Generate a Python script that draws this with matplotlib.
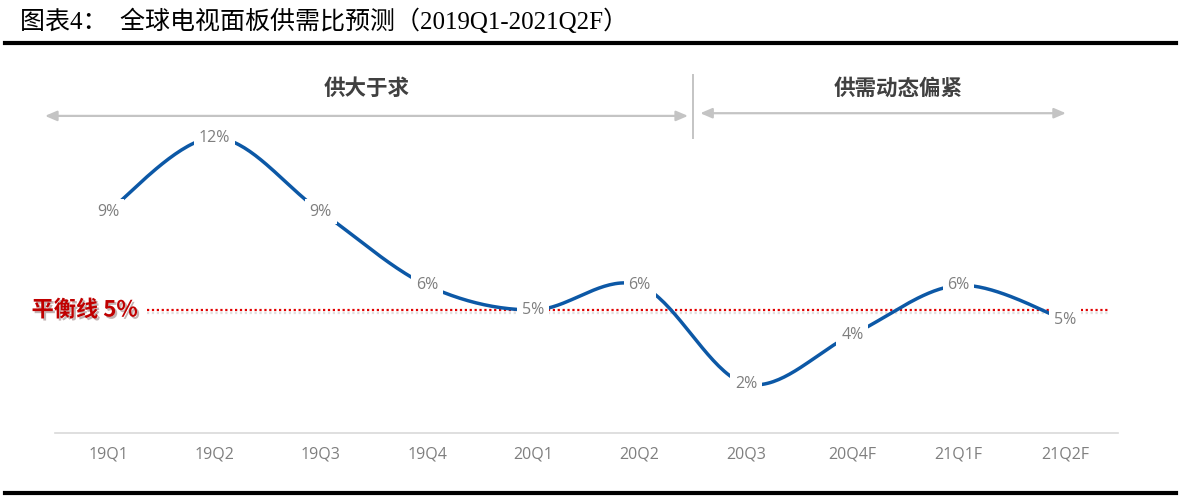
import numpy as np
import matplotlib
matplotlib.use("Agg")
import matplotlib.pyplot as plt
import matplotlib.patheffects as pe

plt.rcParams['font.family'] = ['Noto Sans CJK SC', 'DejaVu Sans']

quarters = ["19Q1", "19Q2", "19Q3", "19Q4", "20Q1", "20Q2",
            "20Q3", "20Q4F", "21Q1F", "21Q2F"]
ratio = [9, 12, 9, 6, 5, 6, 2, 4, 6, 4.6]
balance = 5
phases = ["供大于求", "供需动态偏紧"]
title = "图表4：  全球电视面板供需比预测（2019Q1-2021Q2F）"

BLUE = "#0c58a6"
GRAY_TXT = "#7f7f7f"
RED = "#c00000"
NUM_FONT = ["Open Sans", "DejaVu Sans"]


def smooth(x, y, n=40):
    """Excel-style smoothed line (Catmull-Rom through the points)."""
    x = np.asarray(x, float)
    y = np.asarray(y, float)
    xs, ys = [], []
    for i in range(len(x) - 1):
        p0 = i - 1 if i > 0 else i
        p3 = i + 2 if i + 2 < len(x) else i + 1
        c1x = x[i] + (x[i + 1] - x[p0]) / 6
        c1y = y[i] + (y[i + 1] - y[p0]) / 6
        c2x = x[i + 1] - (x[p3] - x[i]) / 6
        c2y = y[i + 1] - (y[p3] - y[i]) / 6
        t = np.linspace(0, 1, n)
        b0, b1, b2, b3 = (1 - t) ** 3, 3 * t * (1 - t) ** 2, 3 * t ** 2 * (1 - t), t ** 3
        xs.append(b0 * x[i] + b1 * c1x + b2 * c2x + b3 * x[i + 1])
        ys.append(b0 * y[i] + b1 * c1y + b2 * c2y + b3 * y[i + 1])
    return np.concatenate(xs), np.concatenate(ys)


fig = plt.figure(figsize=(11.81, 5.0), dpi=100)
ax = fig.add_axes([55 / 1181, 67 / 500, 1063 / 1181, 369 / 500])
ax.set_xlim(-0.5, len(quarters) - 0.5)
ax.set_ylim(0, 15)

xi = np.arange(len(quarters))
sx, sy = smooth(xi, ratio)
ax.plot(sx, sy, color=BLUE, lw=2.5, solid_capstyle="butt", zorder=3)
for x, v in zip(xi, ratio):
    ax.text(x, v, f"{v:.0f}%", ha="center", va="center", fontsize=11.5,
            family=NUM_FONT, color=GRAY_TXT, zorder=4,
            bbox=dict(boxstyle="square,pad=0.3", fc="white", ec="none"))

# balance line
shadow = [pe.SimpleLineShadow(offset=(0, -2), shadow_color="gray", alpha=0.25), pe.Normal()]
ax.plot([0.365, 9.41], [balance, balance], color="#e00000", lw=1.6,
        ls=(0, (1, 1.2)), zorder=2, clip_on=False, path_effects=shadow)
ax.text(0.28, balance, f"平衡线 {balance}%", ha="right", va="center",
        fontsize=16, fontweight="bold", color=RED, clip_on=False,
        path_effects=[pe.withSimplePatchShadow(offset=(1.5, -1.5), alpha=0.3)])

# phase annotations
arrow_kw = dict(arrowstyle="<|-|>,head_length=0.7,head_width=0.3",
                color="#c4c4c4", lw=1.6, shrinkA=0, shrinkB=0)
ax.annotate("", xy=(-0.594, 12.89), xytext=(5.455, 12.89), arrowprops=arrow_kw,
            annotation_clip=False)
ax.annotate("", xy=(5.57, 13.0), xytext=(9.01, 13.0), arrowprops=arrow_kw,
            annotation_clip=False)
ax.plot([5.50, 5.50], [11.99, 14.55], color="#c4c4c4", lw=1.4, clip_on=False)
ax.text(2.43, 14.02, phases[0], ha="center", va="center", fontsize=15.5,
        fontweight="bold", color="#404040")
ax.text(7.43, 14.02, phases[1], ha="center", va="center", fontsize=15.5,
        fontweight="bold", color="#404040")

ax.set_xticks(xi)
ax.set_xticklabels(quarters, fontsize=11.5, color=GRAY_TXT, family=NUM_FONT)
ax.tick_params(axis="x", length=0, pad=10)
ax.set_yticks([])
for s in ["top", "right", "left"]:
    ax.spines[s].set_visible(False)
ax.spines["bottom"].set_color("#d9d9d9")
ax.spines["bottom"].set_linewidth(1.2)

# report frame: title and thick rules
fig.text(20 / 1181, 1 - 21 / 500, title, ha="left", va="center", fontsize=18,
         family=["Liberation Serif", "Noto Sans CJK SC"], color="black")
fig.add_artist(plt.Line2D([5 / 1181, 1176 / 1181], [1 - 43 / 500] * 2,
                          color="black", lw=3))
fig.add_artist(plt.Line2D([5 / 1181, 1176 / 1181], [1 - 493 / 500] * 2,
                          color="black", lw=3))

fig.savefig("out.png", dpi=100)
